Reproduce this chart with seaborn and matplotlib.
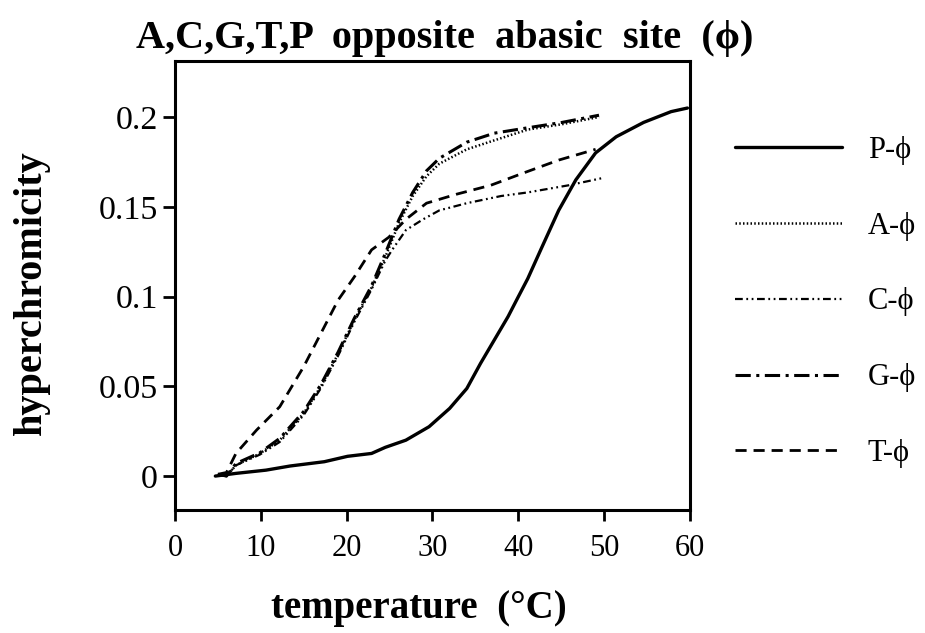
import matplotlib
matplotlib.use("Agg")
import matplotlib.pyplot as plt
import seaborn as sns
import pandas as pd

sns.set_style("ticks")
plt.rcParams['font.family'] = ['Liberation Serif', 'DejaVu Serif']
for k in ["text.color", "axes.labelcolor", "xtick.color", "ytick.color", "axes.edgecolor"]:
    plt.rcParams[k] = "black"

# ---- data ----
P_T = [4.7, 7.1, 10.6, 13.4, 17.4, 20.1, 22.9, 24.5, 26.9, 29.6, 32.0, 34.0, 35.6, 37.2,
       38.8, 39.9, 41.1, 42.7, 44.7, 46.7, 49.0, 51.4, 54.6, 57.8, 59.7]
P_h = [0.0, 0.0015, 0.0033, 0.0056, 0.008, 0.011, 0.0126, 0.016, 0.020, 0.0275, 0.0377,
       0.0488, 0.0628, 0.0758, 0.0888, 0.099, 0.110, 0.127, 0.148, 0.165, 0.180, 0.189,
       0.197, 0.203, 0.205]

A_T = [5.0, 6.0, 7.1, 9.9, 12.2, 15.0, 17.0, 19.0, 20.9, 22.9, 24.5, 26.1, 27.7, 29.3,
       30.8, 34.0, 37.2, 41.1, 45.1, 49.4]
A_h = [0.001, 0.0, 0.006, 0.0126, 0.020, 0.035, 0.050, 0.068, 0.087, 0.105, 0.122, 0.141,
       0.156, 0.167, 0.174, 0.182, 0.187, 0.193, 0.196, 0.200]

G_T = [5.0, 6.0, 7.1, 9.9, 12.2, 15.0, 17.0, 19.0, 20.9, 22.9, 24.5, 26.1, 27.7, 29.3,
       30.8, 34.0, 37.2, 41.1, 45.1, 49.4]
G_h = [0.001, 0.0, 0.007, 0.013, 0.021, 0.036, 0.051, 0.069, 0.088, 0.106, 0.124, 0.143,
       0.158, 0.170, 0.177, 0.186, 0.191, 0.194, 0.197, 0.201]

C_T = [5.0, 6.0, 7.1, 9.9, 12.2, 15.0, 17.0, 19.0, 20.9, 22.9, 24.5, 25.3, 26.9, 28.9,
       30.8, 34.0, 38.0, 41.1, 45.9, 49.8]
C_h = [0.001, 0.0, 0.006, 0.012, 0.019, 0.034, 0.049, 0.067, 0.086, 0.104, 0.120, 0.126,
       0.137, 0.143, 0.148, 0.152, 0.156, 0.158, 0.162, 0.166]

T_T = [5.0, 6.0, 7.1, 9.5, 12.2, 15.0, 17.0, 19.0, 20.9, 22.9, 24.9, 26.9, 29.3, 32.8,
       36.8, 40.7, 44.7, 49.0]
T_h = [0.001, 0.002, 0.0126, 0.0256, 0.0386, 0.061, 0.0795, 0.098, 0.111, 0.126, 0.133,
       0.143, 0.152, 0.157, 0.162, 0.169, 0.176, 0.182]

labels = ["P-ϕ", "A-ϕ", "C-ϕ", "G-ϕ", "T-ϕ"]
x_ticks = [0, 10, 20, 30, 40, 50, 60]
y_ticks = [0, 0.05, 0.1, 0.15, 0.2]
y_tick_labels = ["0", "0.05", "0.1", "0.15", "0.2"]

series = [(P_T, P_h), (A_T, A_h), (C_T, C_h), (G_T, G_h), (T_T, T_h)]
styles = {
    "P-ϕ": dict(lw=2.4, dashes=None),
    "A-ϕ": dict(lw=1.8, dashes=(0.6, 0.9)),
    "C-ϕ": dict(lw=1.6, dashes=(3.5, 1.6, 0.8, 1.6, 0.8, 1.6)),
    "G-ϕ": dict(lw=2.2, dashes=(5, 1.8, 1.0, 1.8)),
    "T-ϕ": dict(lw=2.0, dashes=(4, 2.5)),
}

W, H = 925, 633
fig = plt.figure(figsize=(9.25, 6.33), dpi=100)
ax = fig.add_axes([175 / W, 1 - 510 / H, 515 / W, 449 / H])

for lab, (tx, hy) in zip(labels, series):
    df = pd.DataFrame({"temperature": tx, "h": hy})
    st = styles[lab]
    sns.lineplot(data=df, x="temperature", y="h", ax=ax, color="black",
                 lw=st["lw"], label=lab, sort=False)
    line = ax.get_lines()[-1]
    if st["dashes"] is not None:
        line.set_dashes(st["dashes"])

ax.set_xlim(0, 60)
ax.set_ylim(-0.0189, 0.2312)
ax.set_xticks(x_ticks)
ax.set_xticklabels([str(t) for t in x_ticks])
ax.set_yticks(y_ticks)
ax.set_yticklabels(y_tick_labels)
ax.tick_params(axis="x", direction="out", length=8, width=2.0, labelsize=22, pad=9)
ax.tick_params(axis="y", direction="out", length=9, width=2.0, labelsize=24.5, pad=3.5)
for s in ax.spines.values():
    s.set_linewidth(2.2)
    s.set_color("black")

ax.set_xlabel("")
ax.set_ylabel("")
fig.text(419 / W, 1 - 618 / H, "temperature  (°C)", fontsize=28, fontweight="bold",
         ha="center", va="baseline")
fig.text(31 / W, 1 - 293 / H, "hyperchromicity", fontsize=29, fontweight="bold",
         ha="center", va="center", rotation=90)
fig.text(445 / W, 1 - 48 / H, "A,C,G,T,P  opposite  abasic  site  (ϕ)", fontsize=29,
         fontweight="bold", ha="center", va="baseline")

leg = ax.legend(loc="center left", bbox_to_anchor=(735 / W, 1 - 302 / H),
                bbox_transform=fig.transFigure, frameon=False, borderpad=0, borderaxespad=0,
                fontsize=22, handlelength=3.5, handletextpad=0.85, labelspacing=1.53)

fig.savefig("out.png", dpi=100)
